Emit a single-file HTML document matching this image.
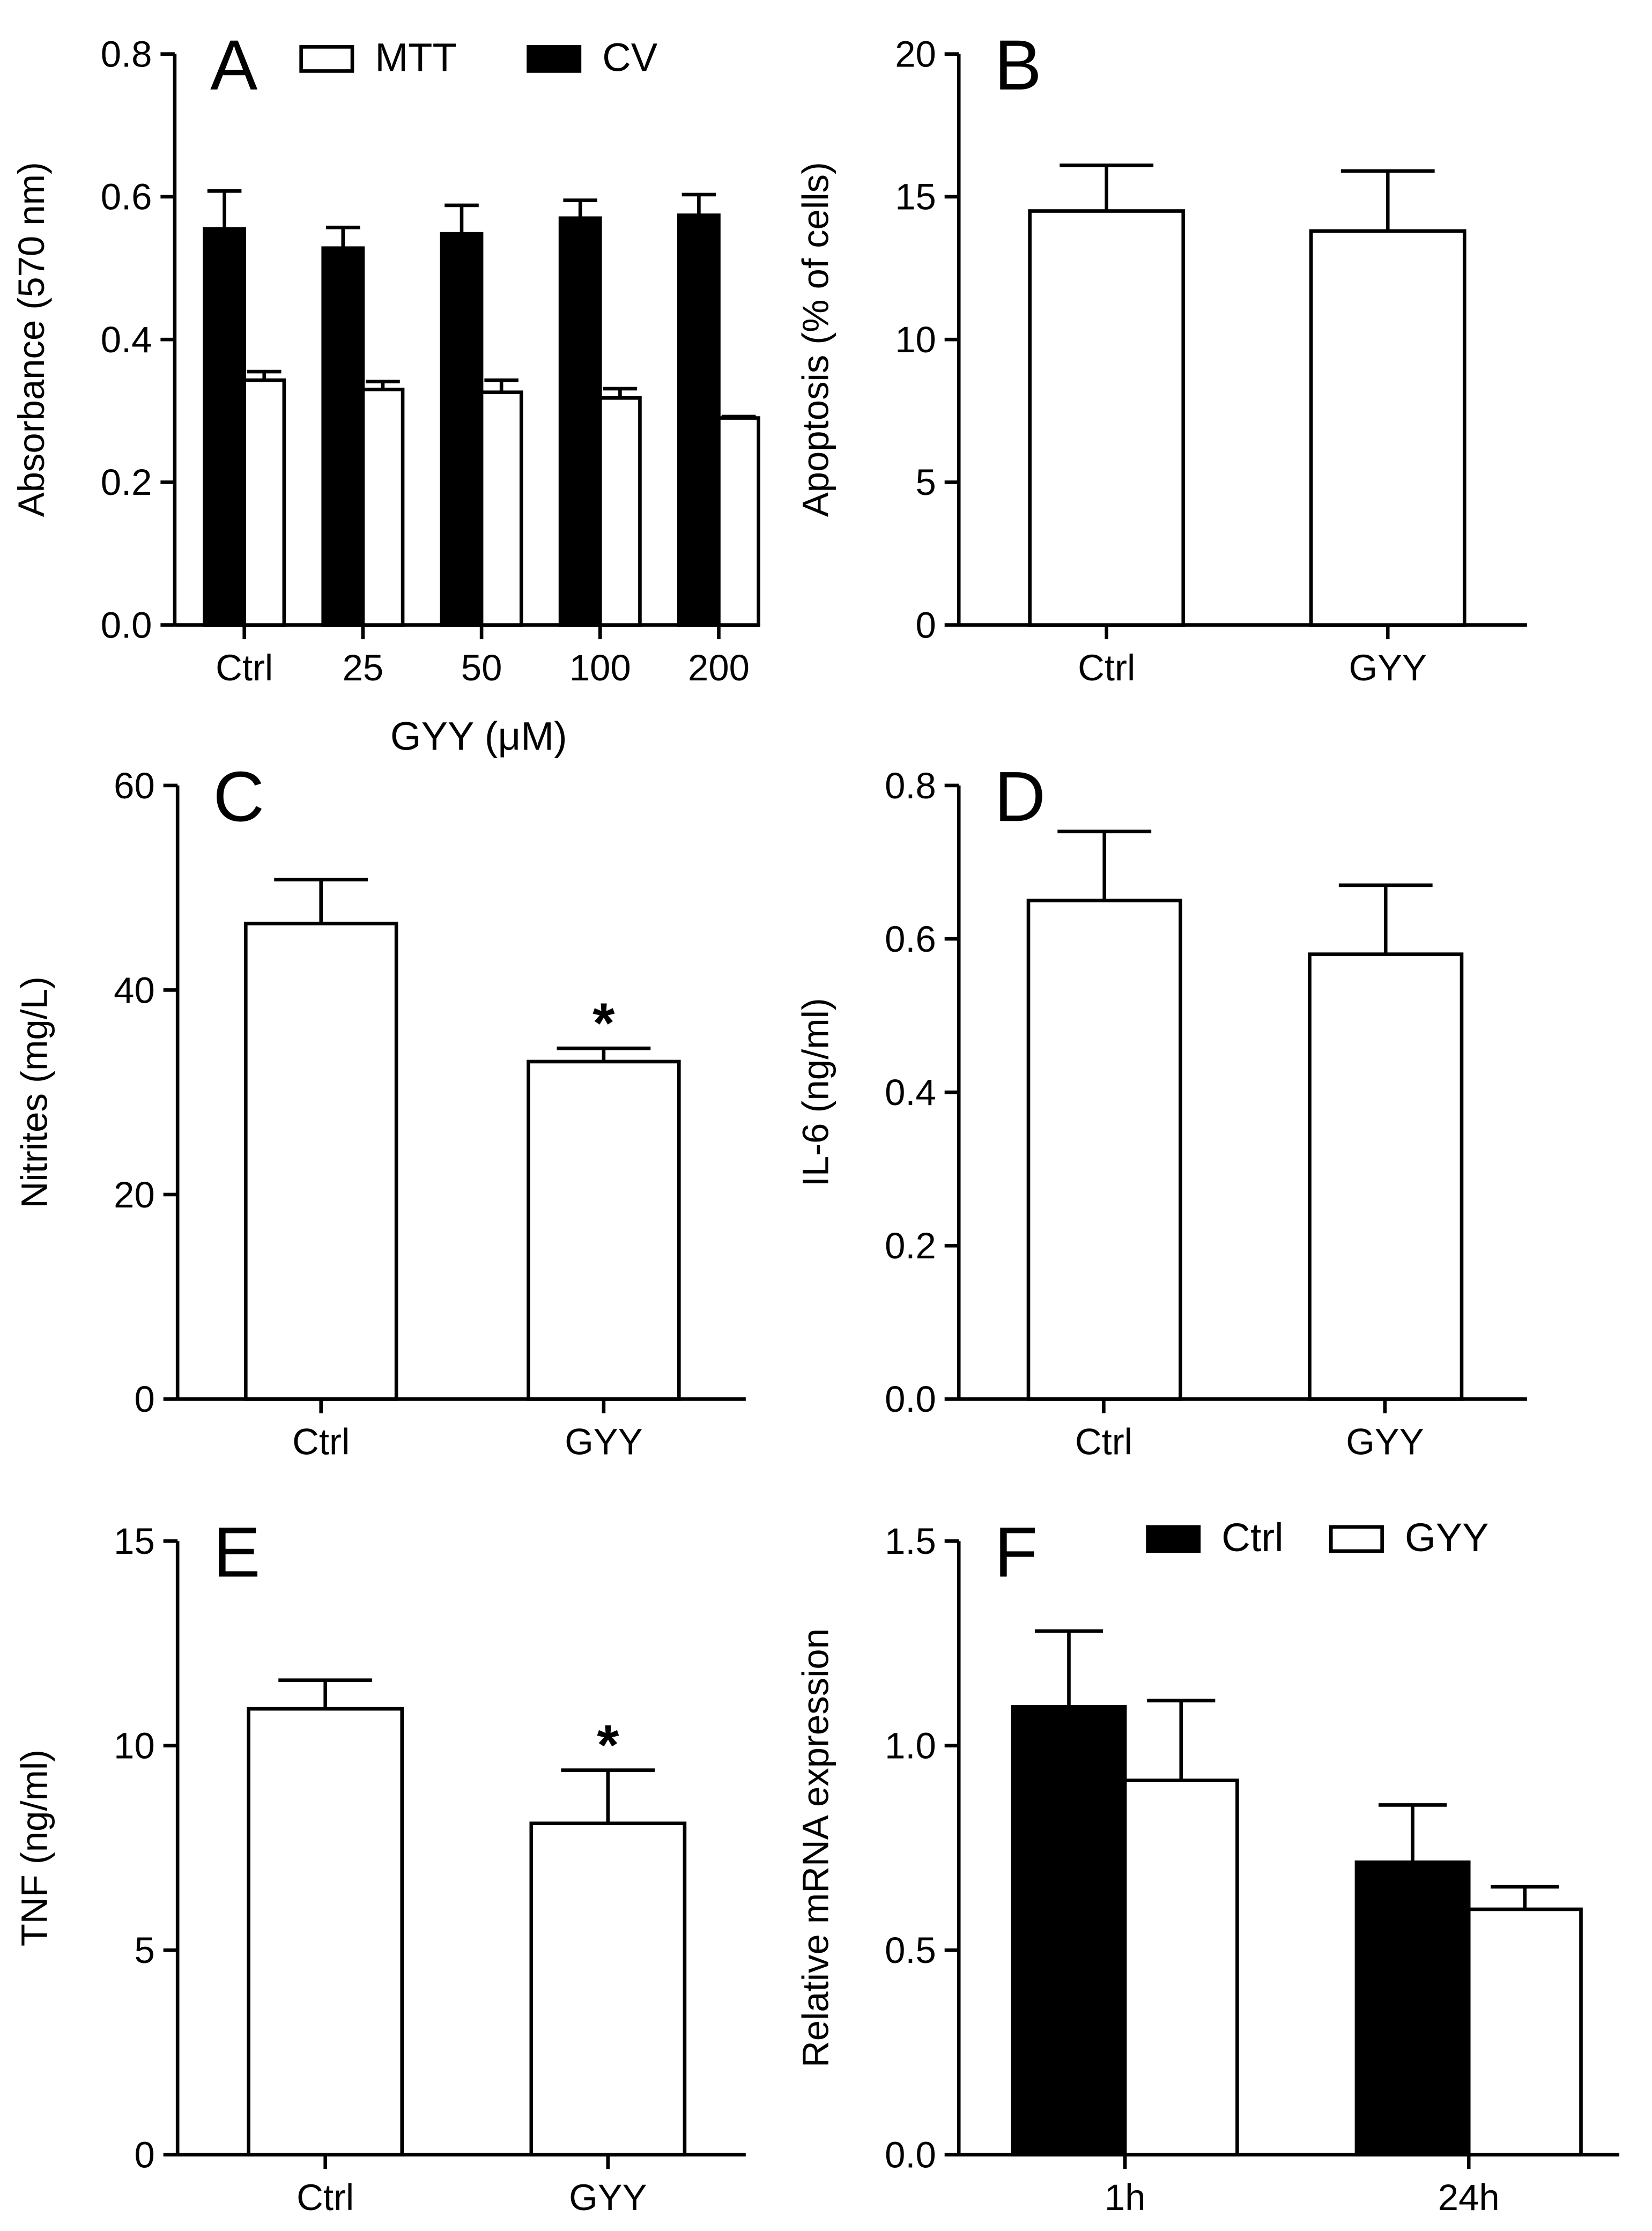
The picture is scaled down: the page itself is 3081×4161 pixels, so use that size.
<!DOCTYPE html>
<html><head><meta charset="utf-8">
<style>
html,body{margin:0;padding:0;background:#fff;}
svg{display:block;font-family:"Liberation Sans",Arial,sans-serif;}
</style></head>
<body>
<svg id="fig" width="3081" height="4161" viewBox="0 0 1163 1570.7" xmlns="http://www.w3.org/2000/svg"></svg>
<script>
// Panel A data
const aCategories = ["Ctrl","25","50","100","200"];
const aCV = [0.555,0.528,0.548,0.570,0.574];
const aCVErr = [0.053,0.029,0.040,0.025,0.029];
const aMTT = [0.343,0.330,0.326,0.318,0.290];
const aMTTErr = [0.012,0.011,0.017,0.013,0.002];
const aTicks = ["0.0","0.2","0.4","0.6","0.8"];
// Panel B
const bCategories = ["Ctrl","GYY"];
const bValues = [14.5,13.8];
const bErr = [1.6,2.1];
const bTicks = ["0","5","10","15","20"];
// Panel C
const cCategories = ["Ctrl","GYY"];
const cValues = [46.5,33.0];
const cErr = [4.3,1.3];
const cTicks = ["0","20","40","60"];
// Panel D
const dCategories = ["Ctrl","GYY"];
const dValues = [0.65,0.58];
const dErr = [0.09,0.09];
const dTicks = ["0.0","0.2","0.4","0.6","0.8"];
// Panel E
const eCategories = ["Ctrl","GYY"];
const eValues = [10.9,8.1];
const eErr = [0.7,1.3];
const eTicks = ["0","5","10","15"];
// Panel F
const fCategories = ["1h","24h"];
const fCtrl = [1.095,0.715];
const fCtrlErr = [0.185,0.14];
const fGYY = [0.915,0.60];
const fGYYErr = [0.195,0.055];
const fTicks = ["0.0","0.5","1.0","1.5"];

const svg = document.getElementById('fig');
const NS = "http://www.w3.org/2000/svg";
function el(tag, attrs, parent){
  const e = document.createElementNS(NS, tag);
  for (const k in attrs) e.setAttribute(k, attrs[k]);
  (parent||svg).appendChild(e);
  return e;
}
function txt(x,y,s,size,anchor,parent,extra){
  const t = el('text',{x:x,y:y,'font-size':size,'text-anchor':anchor||'middle',fill:'#000'},parent);
  if(extra) for(const k in extra) t.setAttribute(k,extra[k]);
  t.textContent = s;
  return t;
}
function panel(opts){
  const g = el('g',{});
  
  
  const ymax = parseFloat(opts.ticks[opts.ticks.length-1]);
  const Y = v => opts.y0 - (opts.y0-opts.yTop)*v/ymax;
  // y axis
  const ya = el('line',{x1:opts.ax,y1:opts.y0,x2:opts.ax,y2:opts.yTop,stroke:'#000','stroke-width':2.5},g);
  
  
  opts.ticks.forEach(t=>{
    const v = parseFloat(t), y = Y(v);
    el('line',{x1:opts.ax-10,y1:y,x2:opts.ax,y2:y,stroke:'#000','stroke-width':2.5},g);
    const tl = txt(opts.ax-16,y+9,t,26,'end',g);
    
    
  });
  const xa = el('line',{x1:opts.ax,y1:opts.y0,x2:opts.xEnd,y2:opts.y0,stroke:'#000','stroke-width':2.5},g);
  
  
  opts.categories.forEach((c,i)=>{
    const cx = opts.c0 + i*opts.step;
    el('line',{x1:cx,y1:opts.y0,x2:cx,y2:opts.y0+10,stroke:'#000','stroke-width':2.5},g);
    const xl = txt(cx,opts.y0+39,c,26,'middle',g);
    
    
    opts.series.forEach((s,j)=>{
      const x = cx + s.off;
      const top = Y(s.vals[i]);
      const et = Y(s.vals[i]+s.err[i]);
      el('line',{x1:x+s.w/2,y1:top,x2:x+s.w/2,y2:et,stroke:'#000','stroke-width':2.5},g);
      el('line',{x1:x+s.w/2-s.cap/2,y1:et,x2:x+s.w/2+s.cap/2,y2:et,stroke:'#000','stroke-width':2.5},g);
      const r = el('rect',{x:x,y:top,width:s.w,height:opts.y0-top,fill:s.fill,stroke:'#000','stroke-width':2.5},g);
      
      
      if(s.stars && s.stars[i]){
        const st = txt(x+s.w/2,et-4,'*',40,'middle',g,{'font-weight':'bold'});
        
        
      }
    });
  });
  const pl = txt(opts.ax+25,opts.yTop+25,opts.letter,50,'start',g);
  
  
  const yl = txt(0,0,opts.ylabel,26,'middle',g,{transform:`translate(${opts.ax-92},${(opts.y0+opts.yTop)/2}) rotate(-90)`});
  
  
  return g;
}
function legendBox(g,x,y,fill,label){
  const r = el('rect',{x:x,y:y,width:36,height:17,fill:fill,stroke:'#000','stroke-width':2.5},g);
  
  
  const t = txt(x+52,y+17,label,28,'start',g);
  
  
}

const gA = panel({name:'panel-a',letter:'A',ax:123,y0:440,yTop:38,xEnd:534,ticks:aTicks,categories:aCategories,c0:172,step:83.5,
  ylabel:'Absorbance (570 nm)',
  series:[{key:'cv',vals:aCV,err:aCVErr,off:-28,w:28,cap:24,fill:'#000'},
          {key:'mtt',vals:aMTT,err:aMTTErr,off:0,w:28,cap:24,fill:'#fff'}]});
legendBox(gA,212,33,'#fff','MTT');
legendBox(gA,372,33,'#000','CV');
const xt = txt(337,528,'GYY (μM)',28,'middle',gA);



panel({name:'panel-b',letter:'B',ax:675,y0:440,yTop:38,xEnd:1075,ticks:bTicks,categories:bCategories,c0:779,step:198,
  ylabel:'Apoptosis (% of cells)',
  series:[{key:'apoptosis',vals:bValues,err:bErr,off:-54,w:108,cap:66,fill:'#fff'}]});

panel({name:'panel-c',letter:'C',ax:125,y0:985,yTop:553,xEnd:525,ticks:cTicks,categories:cCategories,c0:226,step:199,
  ylabel:'Nitrites (mg/L)',
  series:[{key:'nitrites',vals:cValues,err:cErr,off:-53,w:106,cap:66,fill:'#fff',stars:[false,true]}]});

panel({name:'panel-d',letter:'D',ax:675,y0:985,yTop:553,xEnd:1075,ticks:dTicks,categories:dCategories,c0:777,step:198,
  ylabel:'IL-6 (ng/ml)',
  series:[{key:'il6',vals:dValues,err:dErr,off:-53,w:107,cap:66,fill:'#fff'}]});

panel({name:'panel-e',letter:'E',ax:125,y0:1517,yTop:1085,xEnd:525,ticks:eTicks,categories:eCategories,c0:229,step:199,
  ylabel:'TNF (ng/ml)',
  series:[{key:'tnf',vals:eValues,err:eErr,off:-54,w:108,cap:66,fill:'#fff',stars:[false,true]}]});

const gF = panel({name:'panel-f',letter:'F',ax:675,y0:1517,yTop:1085,xEnd:1140,ticks:fTicks,categories:fCategories,c0:792,step:242,
  ylabel:'Relative mRNA expression',
  series:[{key:'ctrl',vals:fCtrl,err:fCtrlErr,off:-79,w:79,cap:48,fill:'#000'},
          {key:'gyy',vals:fGYY,err:fGYYErr,off:0,w:79,cap:48,fill:'#fff'}]});
legendBox(gF,808,1075,'#000','Ctrl');
legendBox(gF,937,1075,'#fff','GYY');
</script>
</body></html>
